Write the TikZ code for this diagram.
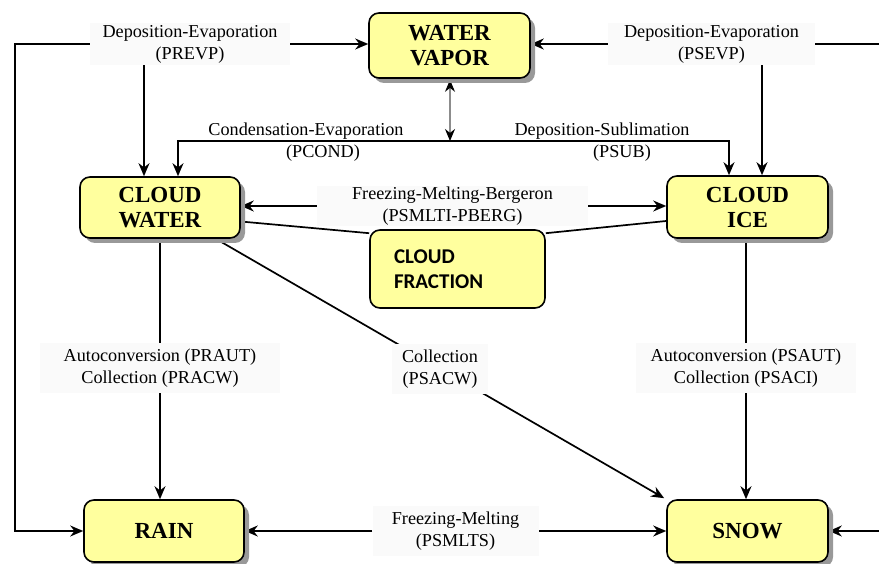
\documentclass[tikz,border=0pt]{standalone}
\usepackage{fontspec}
\setmainfont{Liberation Serif}
\newfontfamily\serfont{Liberation Serif}
\newfontfamily\cffont{Carlito}
\usetikzlibrary{arrows.meta,shadows}
\pgfdeclarelayer{bg}
\pgfsetlayers{bg,main}
\definecolor{boxfill}{RGB}{255,255,158}
\tikzset{
  box/.style={draw=black, line width=1.6pt, rounded corners=10pt, fill=boxfill,
    inner sep=0pt, align=center, font=\serfont\bfseries\fontsize{23}{25}\selectfont},
  shad/.style={drop shadow={shadow xshift=5pt, shadow yshift=-5pt, fill=black!40, opacity=1}},
  lbl/.style={fill=black!2, inner sep=0pt, align=center, font=\serfont\fontsize{18.2}{22}\selectfont},
  txt/.style={inner sep=0pt, font=\serfont\fontsize{18.2}{22}\selectfont},
  seg/.style={line width=1.7pt},
  conn/.style={line width=1.7pt, -{Stealth[length=13pt,width=11pt]}},
}
\begin{document}
\begin{tikzpicture}[x=1pt,y=-1pt]
\useasboundingbox (0,0) rectangle (879,564);
% main boxes
\node[box,shad,minimum width=161pt,minimum height=65pt] (wv) at (449.5,45.5) {WATER\\VAPOR};
\node[box,shad,minimum width=160pt,minimum height=61pt] (cw) at (160,207.5) {CLOUD\\WATER};
\node[box,shad,minimum width=161pt,minimum height=62pt] (ci) at (747.5,207) {CLOUD\\ICE};
\node[box,minimum width=175pt,minimum height=78pt,inner xsep=24pt,text width=127pt,align=left,
  font=\cffont\bfseries\fontsize{21}{25}\selectfont] (cf) at (457.5,269) {CLOUD\\FRACTION};
\node[box,shad,minimum width=160pt,minimum height=62pt] (rain) at (164,531) {RAIN};
\node[box,shad,minimum width=161pt,minimum height=62pt] (snow) at (747.5,531) {SNOW};
% labels
\node[lbl,minimum width=200pt,minimum height=42pt] (prevp) at (190,44) {Deposition-Evaporation\\(PREVP)};
\node[lbl,minimum width=207pt,minimum height=42pt] (psevp) at (711.5,44) {Deposition-Evaporation\\(PSEVP)};
\node[lbl,minimum width=271pt,minimum height=40pt] (fmb) at (452.5,206) {Freezing-Melting-Bergeron\\(PSMLTI-PBERG)};
\node[lbl,minimum width=240pt,minimum height=50pt] (praut) at (160,368) {Autoconversion (PRAUT)\\Collection (PRACW)};
\node[lbl,minimum width=96pt,minimum height=50pt] (psacw) at (440,369) {Collection\\(PSACW)};
\node[lbl,minimum width=220pt,minimum height=50pt] (psaut) at (746,368) {Autoconversion (PSAUT)\\Collection (PSACI)};
\node[lbl,minimum width=166pt,minimum height=50pt] (psmlts) at (455.5,531) {Freezing-Melting\\(PSMLTS)};
\node[txt] (pcond1) at (306,131) {Condensation-Evaporation};
\node[txt] (pcond2) at (323,153) {(PCOND)};
\node[txt] (psub1) at (602,131) {Deposition-Sublimation};
\node[txt] (psub2) at (622,153) {(PSUB)};
% coordinates
\coordinate (lb) at (15,531);
\coordinate (rt) at (879,44);
\coordinate (rb) at (879,531);
\coordinate (pa) at (144,65);
\coordinate (pb) at (762,65);
\coordinate (vj) at (450,141);
\coordinate (cj) at (178,141);
\coordinate (ij) at (729,141);
\begin{pgfonlayer}{bg}
\draw[conn] (prevp.west) -| (lb) -- (lb -| rain.west);
\draw[conn] (prevp.east) -- (prevp.east -| wv.west);
\draw[conn] (pa) -- (pa |- cw.north);
\draw[conn] (psevp.west) -- (psevp.west -| wv.east);
\draw[seg] (psevp.east) -- (rt);
\draw[conn] (rb) -- (snow.east);
\draw[conn] (pb) -- (pb |- ci.north);
\draw[line width=1.1pt, draw=black!45, {Stealth[length=12pt,width=10pt,black]}-{Stealth[length=12pt,width=10pt,black]}] ([yshift=-1pt]wv.south -| vj) -- (vj);
\draw[conn] (vj) -- (cj) -- (cj |- cw.north);
\draw[conn] (vj) -- (ij) -- (ij |- ci.north);
\draw[conn] (fmb.west) -- (fmb.west -| cw.east);
\draw[conn] (fmb.east) -- (fmb.east -| ci.west);
\draw[seg] ([yshift=-14pt]cw.east) -- ([yshift=-4pt]cf.north west);
\draw[seg] ([yshift=-14pt]ci.west) -- ([yshift=-4pt]cf.north east);
\draw[seg] (cw.south) -- (praut.north);
\draw[conn] (praut.south) -- (praut.south |- rain.north);
\draw[conn] ([xshift=-25pt]cw.south east) -- ([xshift=-2pt,yshift=1pt]snow.north west);
\draw[seg] (ci.south -| psaut) -- (psaut.north);
\draw[conn] (psaut.south) -- (psaut.south |- snow.north);
\draw[conn] (psmlts.west) -- (rain.east);
\draw[conn] (psmlts.east) -- (snow.west);
\end{pgfonlayer}
\end{tikzpicture}
\end{document}
